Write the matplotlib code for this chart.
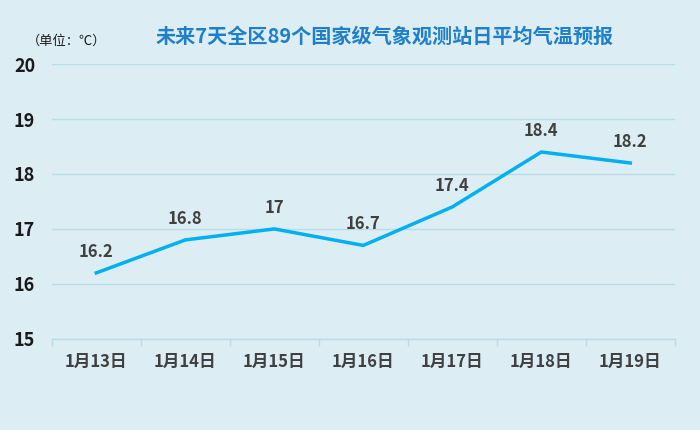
import matplotlib
matplotlib.use('Agg')
import matplotlib.pyplot as plt

plt.rcParams['font.family'] = ['Noto Sans CJK SC', 'DejaVu Sans']

dates = ['1月13日', '1月14日', '1月15日', '1月16日', '1月17日', '1月18日', '1月19日']
temps = [16.2, 16.8, 17, 16.7, 17.4, 18.4, 18.2]
labels = ['16.2', '16.8', '17', '16.7', '17.4', '18.4', '18.2']

bg = '#dcedf4'
fig = plt.figure(figsize=(7, 4.3), dpi=100, facecolor=bg)
ax = fig.add_axes([0.074, 0.212, 0.89, 0.639], facecolor=bg)
x = list(range(len(dates)))
ax.plot(x, temps, color='#00b0f0', lw=2.5)
for xi, t, l in zip(x, temps, labels):
    ax.text(xi, t + 0.22, l, ha='center', va='bottom', fontsize=12, fontweight='bold', color='#404040')
ax.set_xlim(-0.5, 6.5)
ax.set_ylim(15, 20)
ax.set_yticks([15, 16, 17, 18, 19, 20])
ax.set_xticks(x)
ax.set_xticklabels(dates, fontsize=12, fontweight='bold', color='#404040')
for lab in ax.get_yticklabels():
    lab.set_fontsize(13); lab.set_fontweight('bold'); lab.set_color('#1a1a1a')
ax.grid(axis='y', color='#b7dde8', lw=1)
ax.set_axisbelow(True)
for s in ['top', 'right', 'left']:
    ax.spines[s].set_visible(False)
ax.spines['bottom'].set_color('#b7dde8')
ax.spines['bottom'].set_linewidth(1)
ax.tick_params(axis='y', length=0, pad=12)
ax.tick_params(axis='x', length=0, pad=10)
for b in [i - 0.5 for i in range(8)]:
    ax.plot([b, b], [15, 14.88], color='#b7dde8', lw=1, clip_on=False)
fig.text(0.55, 0.915, '未来7天全区89个国家级气象观测站日平均气温预报', ha='center', va='center',
         fontsize=14.5, fontweight='bold', color='#1f7fc8')
fig.text(0.095, 0.905, '（单位：℃）', ha='center', va='center', fontsize=9.5, color='#1a1a1a')
fig.savefig('out.png', dpi=100, facecolor=bg)
